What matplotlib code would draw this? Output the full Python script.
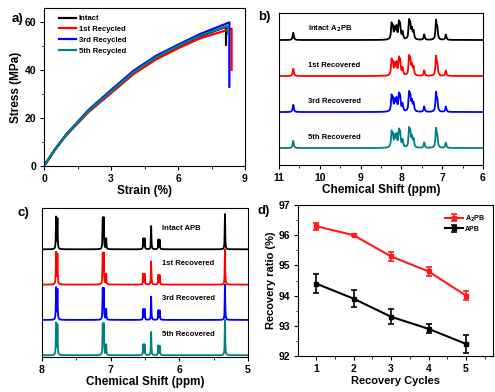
import numpy as np
import matplotlib.pyplot as plt
from matplotlib.ticker import MultipleLocator

plt.rcParams['font.family'] = ['Liberation Sans', 'DejaVu Sans']
plt.rcParams['font.weight'] = 'bold'
plt.rcParams['axes.labelweight'] = 'bold'
plt.rcParams['axes.linewidth'] = 0.8
plt.rcParams['xtick.major.size'] = 3
plt.rcParams['ytick.major.size'] = 3
plt.rcParams['xtick.minor.size'] = 1.8
plt.rcParams['ytick.minor.size'] = 1.8
plt.rcParams['xtick.major.pad'] = 2.5
plt.rcParams['ytick.major.pad'] = 2.5
plt.rcParams['xtick.labelsize'] = 7.5
plt.rcParams['ytick.labelsize'] = 7.5

# (a) naprezenie-odksztalcenie
strain_intact = [0, 0.5, 1, 2, 3, 4, 5, 6, 7, 8.15, 8.15]
stress_intact = [0, 7, 13, 23, 31, 39, 45, 49.7, 54, 58, 50.5]
strain_1st = [0, 0.5, 1, 2, 3, 4, 5, 6, 7, 8.4, 8.4]
stress_1st = [0, 7, 12.8, 22.5, 30.3, 38.2, 44.3, 49, 53.2, 57.2, 40]
strain_3rd = [0, 0.5, 1, 2, 3, 4, 5, 6, 7, 8.3, 8.3]
stress_3rd = [0, 7, 13.2, 23.4, 31.6, 39.6, 45.8, 50.5, 55, 59.8, 33]
strain_5th = [0, 0.5, 1, 2, 3, 4, 5, 6, 7, 8.24, 8.24]
stress_5th = [0, 7, 13, 23, 31, 39, 45.2, 50, 54.3, 58.3, 55]

# (b) widmo A2PB: polozenia i wysokosci pikow
pos_b = [10.65, 8.24, 8.21, 8.16, 8.12, 8.06, 8.03, 7.97, 7.81, 7.78, 7.74, 7.70, 7.44, 7.15, 7.12, 6.91]
hgt_b = [0.2, 0.4, 0.3, 0.28, 0.32, 0.42, 0.36, 0.2, 0.48, 0.36, 0.26, 0.22, 0.15, 0.5, 0.28, 0.15]
labels_b = ['Intact A$_2$PB', '1st Recovered', '3rd Recovered', '5th Recovered']

# (c) widmo APB
pos_c = [7.795, 7.775, 7.115, 7.10, 7.065, 6.525, 6.505, 6.41, 6.305, 6.285, 5.335]
hgt_c = [0.9, 0.85, 0.85, 0.85, 0.3, 0.3, 0.3, 0.66, 0.27, 0.26, 1.0]
labels_c = ['Intact APB', '1st Recovered', '3rd Recovered', '5th Recovered']

colors = ['black', '#ff0000', '#0000ff', '#008080']

# (d) stopien odzysku
cycles = [1, 2, 3, 4, 5]
a2pb = [96.3, 96.0, 95.3, 94.8, 94.0]
a2pb_err = [0.12, 0.04, 0.15, 0.15, 0.15]
apb = [94.4, 93.9, 93.3, 92.9, 92.4]
apb_err = [0.33, 0.28, 0.25, 0.15, 0.3]

W, H = 495, 392
fig = plt.figure(figsize=(W / 100, H / 100), dpi=100)


def box(l, r, t, b):
    return fig.add_axes([l / W, (H - b) / H, (r - l) / W, (b - t) / H])


def lor(x, pos, hgt, w):
    y = np.zeros_like(x)
    for p, h in zip(pos, hgt):
        y += h * w ** 2 / ((x - p) ** 2 + w ** 2)
    return y


# --- a ---
ax = box(44, 245, 8, 166)
ax.plot(strain_intact, stress_intact, color=colors[0], lw=1.6, label='Intact')
ax.plot(strain_1st, stress_1st, color=colors[1], lw=1.6, label='1st Recycled')
ax.plot(strain_3rd, stress_3rd, color=colors[2], lw=1.6, label='3rd Recycled')
ax.plot(strain_5th, stress_5th, color=colors[3], lw=1.6, label='5th Recycled')
ax.set_xlim(0, 9)
ax.set_ylim(0, 65.8)
ax.xaxis.set_major_locator(MultipleLocator(3))
ax.xaxis.set_minor_locator(MultipleLocator(1.5))
ax.yaxis.set_major_locator(MultipleLocator(20))
ax.yaxis.set_minor_locator(MultipleLocator(10))
ax.set_xlabel('Strain (%)', fontsize=8.5, labelpad=1)
ax.set_ylabel('Stress (MPa)', fontsize=8.5, labelpad=2)
ax.legend(loc='upper left', frameon=False, fontsize=5.5, handlelength=2.3,
          handletextpad=0.3, labelspacing=0.45, borderaxespad=0.5,
          bbox_to_anchor=(0.04, 1.0))
fig.text(12 / W, 1 - 22 / H, 'a)', fontsize=9.5)

# --- b ---
ax = box(279, 483, 13, 165)
xb = np.linspace(6, 11, 6000)
for i in range(4):
    off = 3 - i
    ax.plot(xb, off + lor(xb, pos_b, hgt_b, 0.016), color=colors[i], lw=1.3)
    ax.text(10.3, off + 0.3, labels_b[i], fontsize=5.5, va='center', ha='left')
ax.set_xlim(11, 6)
ax.set_ylim(-0.47, 3.75)
ax.set_yticks([])
ax.xaxis.set_major_locator(MultipleLocator(1))
ax.xaxis.set_minor_locator(MultipleLocator(0.5))
ax.set_xlabel('Chemical Shift (ppm)', fontsize=8.5, labelpad=1)
fig.text(258 / W, 1 - 20 / H, 'b)', fontsize=9.5)

# --- c ---
ax = box(42, 248, 208, 357)
xc = np.linspace(4.9, 8.1, 8000)
for i in range(4):
    off = 3 - i
    ax.plot(xc, off + lor(xc, pos_c, hgt_c, 0.004), color=colors[i], lw=1.3)
    ax.text(6.25, off + 0.6, labels_c[i], fontsize=5.5, va='center', ha='left')
ax.set_xlim(8, 5)
ax.set_ylim(-0.05, 4.17)
ax.set_yticks([])
ax.xaxis.set_major_locator(MultipleLocator(1))
ax.xaxis.set_minor_locator(MultipleLocator(0.5))
ax.set_xlabel('Chemical Shift (ppm)', fontsize=8.5, labelpad=1)
fig.text(17 / W, 1 - 216 / H, 'c)', fontsize=9.5)

# --- d ---
ax = box(298, 493, 205, 356)
ax.errorbar(cycles, a2pb, yerr=a2pb_err, color='#ff1a1a', lw=1.5, marker='s', ms=2.5,
            capsize=2, elinewidth=1.2, capthick=1.2, label='A$_2$PB')
ax.errorbar(cycles, apb, yerr=apb_err, color='black', lw=1.5, marker='s', ms=2.5,
            capsize=2, elinewidth=1.2, capthick=1.2, label='APB')
ax.set_xlim(0.52, 5.72)
ax.set_ylim(92, 97)
ax.xaxis.set_major_locator(MultipleLocator(1))
ax.xaxis.set_minor_locator(MultipleLocator(0.5))
ax.yaxis.set_major_locator(MultipleLocator(1))
ax.yaxis.set_minor_locator(MultipleLocator(0.5))
ax.set_xlabel('Recovery Cycles', fontsize=8, labelpad=2)
ax.set_ylabel('Recovery ratio (%)', fontsize=8, labelpad=2)
ax.legend(loc='upper right', frameon=False, fontsize=5, handlelength=2.6,
          handletextpad=0.2, labelspacing=0.3, borderaxespad=0.8)
fig.text(258 / W, 1 - 214 / H, 'd)', fontsize=9.5)

plt.savefig('out.png', dpi=100)
